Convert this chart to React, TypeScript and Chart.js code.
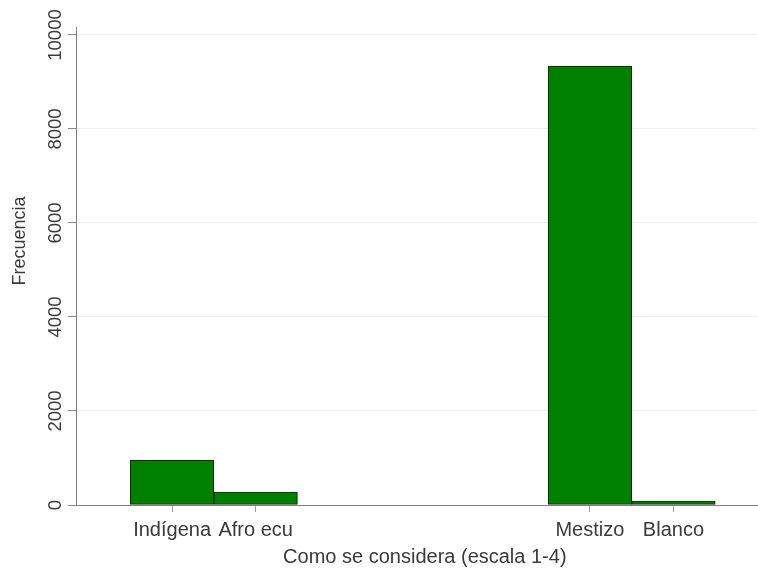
import React, { useEffect, useRef } from 'react';
import { Chart, registerables } from 'chart.js';

Chart.register(...registerables);

const categories = ['Indígena', 'Afro ecu', 'Mestizo', 'Blanco'];
const binPositions = [1, 2, 6, 7];
const frequencies = [957, 277, 9340, 85];
const yTickValues = [0, 2000, 4000, 6000, 8000, 10000];

const FONT = "'Liberation Sans', Arial, Helvetica, sans-serif";
const TEXT = '#3a3a3a';

export default function App() {
  const ref = useRef<HTMLCanvasElement>(null);

  useEffect(() => {
    if (!ref.current) return;
    Chart.defaults.font.family = FONT;
    const chart = new Chart(ref.current, {
      type: 'bar',
      data: {
        datasets: [
          {
            data: binPositions.map((x, i) => ({ x, y: frequencies[i] })),
            backgroundColor: '#007f00',
            borderColor: '#0f300f',
            borderWidth: 1.2,
            borderSkipped: false,
            categoryPercentage: 1,
            barPercentage: 1,
          } as any,
        ],
      },
      options: {
        animation: false,
        responsive: false,
        maintainAspectRatio: false,
        layout: { padding: { top: 27, right: 1, left: 0, bottom: 0 } },
        plugins: {
          legend: { display: false },
          tooltip: { enabled: false },
        },
        scales: {
          x: {
            type: 'linear',
            offset: false,
            min: -0.15,
            max: 8,
            afterBuildTicks: (s: any) => {
              s.ticks = binPositions.map((v) => ({ value: v }));
            },
            afterFit: (s: any) => {
              s.height = 66;
            },
            ticks: {
              autoSkip: false,
              maxRotation: 0,
              minRotation: 0,
              padding: 6,
              font: { size: 20 },
              color: TEXT,
              callback: (v: any) => {
                const i = binPositions.indexOf(Number(v));
                return i >= 0 ? categories[i] : '';
              },
            },
            grid: { offset: false, drawOnChartArea: false, tickLength: 7, tickColor: '#9a9a9a', tickWidth: 1 },
            border: { color: '#7f7f7f', width: 1 },
            title: {
              display: true,
              text: '   Como se considera (escala 1-4)',
              font: { size: 20 },
              color: TEXT,
              padding: { top: 0, bottom: 2 },
            },
          },
          y: {
            min: 0,
            max: 10170,
            afterBuildTicks: (s: any) => {
              s.ticks = yTickValues.map((v) => ({ value: v }));
            },
            afterFit: (s: any) => {
              s.width = 76;
            },
            ticks: {
              minRotation: 90,
              maxRotation: 90,
              crossAlign: 'center',
              padding: -14,
              font: { size: 18.5 },
              color: TEXT,
              callback: (v: any) => String(v),
            },
            grid: { color: '#eeeeee', tickColor: '#8a8a8a', tickLength: 8, lineWidth: 1 },
            border: { color: '#7f7f7f', width: 1 },
            title: {
              display: true,
              text: '          Frecuencia',
              font: { size: 18 },
              color: TEXT,
              padding: { top: 9, bottom: 0 },
            },
          },
        },
      } as any,
    });
    return () => chart.destroy();
  }, []);

  return (
    <div style={{ position: 'absolute', left: 0, top: 0, width: 758, height: 571, background: '#fff' }}>
      <canvas ref={ref} width={758} height={571} style={{ display: 'block' }} />
    </div>
  );
}
